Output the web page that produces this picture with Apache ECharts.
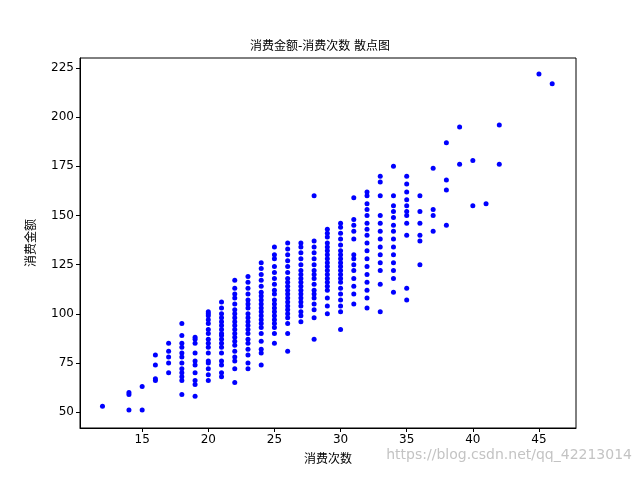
<!DOCTYPE html>
<html><head><meta charset="utf-8">
<script src="https://cdn.jsdelivr.net/npm/echarts@6/dist/echarts.min.js"></script>
<style>html,body{margin:0;padding:0;background:#fff}#c{width:640px;height:480px}</style>
</head><body><div id="c"></div>
<script>
const xTicks = [15, 20, 25, 30, 35, 40, 45];
const yTicks = [50, 75, 100, 125, 150, 175, 200, 225];
const counts = [12, 14, 15, 16, 17, 18, 19, 20, 21, 22, 23, 24, 25, 26, 27, 28, 29, 30, 31, 32, 33, 34, 35, 36, 37, 38, 39, 40, 41, 42, 45, 46];
const amounts = [
 [53],
 [51, 59, 60],
 [51, 63],
 [66, 67, 74, 79],
 [70, 75, 78, 81, 85],
 [59, 66, 68, 70, 72, 75, 78, 80, 83, 85, 89, 95],
 [58, 64, 66, 70, 74, 76, 80, 85, 87, 88],
 [66, 69, 72, 75, 76, 80, 83, 85, 87, 90, 92, 95, 97, 99, 100, 101],
 [68, 70, 74, 76, 80, 83, 85, 87, 89, 90, 92, 94, 96, 98, 100, 103, 106],
 [65, 72, 76, 78, 81, 84, 86, 88, 90, 92, 94, 96, 98, 100, 102, 105, 108, 110, 113, 117],
 [72, 75, 79, 82, 85, 87, 90, 92, 94, 96, 98, 100, 103, 105, 107, 110, 113, 116, 119],
 [74, 80, 82, 86, 90, 93, 95, 97, 99, 101, 103, 105, 107, 109, 111, 114, 117, 120, 123, 126],
 [85, 90, 93, 95, 97, 99, 101, 103, 105, 107, 110, 112, 115, 118, 121, 124, 128, 130, 134],
 [81, 90, 95, 98, 100, 102, 104, 106, 108, 110, 112, 114, 116, 118, 121, 124, 127, 130, 133, 136],
 [96, 99, 101, 104, 106, 108, 110, 112, 114, 116, 118, 120, 122, 125, 128, 131, 134, 136],
 [87, 98, 102, 105, 108, 110, 112, 115, 118, 120, 122, 125, 128, 131, 134, 137, 160],
 [100, 104, 108, 112, 114, 116, 118, 120, 122, 124, 126, 128, 130, 132, 134, 136, 139, 141, 143],
 [92, 101, 104, 107, 110, 113, 116, 118, 120, 122, 124, 126, 128, 130, 132, 135, 138, 141, 144, 146],
 [105, 110, 114, 118, 122, 125, 128, 130, 138, 142, 145, 148, 159],
 [103, 108, 112, 116, 120, 124, 128, 132, 136, 140, 143, 146, 150, 153, 156, 160, 162],
 [101, 115, 122, 126, 130, 134, 138, 142, 146, 150, 160, 167, 170],
 [111, 118, 122, 126, 130, 134, 138, 142, 145, 149, 152, 155, 160, 175],
 [107, 113, 140, 146, 150, 152, 155, 158, 162, 166, 170],
 [125, 137, 140, 146, 152, 160],
 [142, 150, 153, 174],
 [145, 163, 168, 187],
 [176, 195],
 [155, 178],
 [156],
 [176, 196],
 [222],
 [217]
];
const pts = [];
counts.forEach((c, i) => amounts[i].forEach(v => pts.push([c, v])));
const font = '"DejaVu Sans", "Noto Sans CJK SC", sans-serif';
const chart = echarts.init(document.getElementById('c'));
chart.setOption({
  animation: false,
  title: {text: '消费金额-消费次数 散点图', left: 'center', top: 36,
    textStyle: {fontSize: 12, fontWeight: 'normal', color: '#000', fontFamily: font}},
  grid: {left: 80, right: 64, top: 58, bottom: 52, show: true, borderColor: '#000', borderWidth: 1},
  xAxis: {type: 'value', min: 10.3, max: 47.8, name: '消费次数', nameLocation: 'middle', nameGap: 26,
    nameTextStyle: {fontSize: 12, color: '#000', fontFamily: font},
    axisLine: {lineStyle: {color: '#000'}},
    axisTick: {customValues: xTicks, length: 4, lineStyle: {color: '#000'}},
    axisLabel: {customValues: xTicks, fontSize: 12, color: '#000', fontFamily: font, margin: 6},
    splitLine: {show: false}},
  yAxis: {type: 'value', min: 41.9, max: 230.1, name: '消费金额', nameLocation: 'middle', nameGap: 42,
    nameTextStyle: {fontSize: 12, color: '#000', fontFamily: font},
    axisLine: {show: true, lineStyle: {color: '#000'}},
    axisTick: {show: true, customValues: yTicks, length: 4, lineStyle: {color: '#000'}},
    axisLabel: {customValues: yTicks, fontSize: 12, color: '#000', fontFamily: font, margin: 6},
    splitLine: {show: false}},
  series: [{type: 'scatter', data: pts, symbolSize: 5, itemStyle: {color: '#0000ff', opacity: 1}}],
  graphic: [{type: 'text', right: 8, bottom: 18,
    style: {text: 'https://blog.csdn.net/qq_42213014', fontSize: 14, fill: 'rgba(180,180,180,0.8)', fontFamily: font}}]
});
</script></body></html>
